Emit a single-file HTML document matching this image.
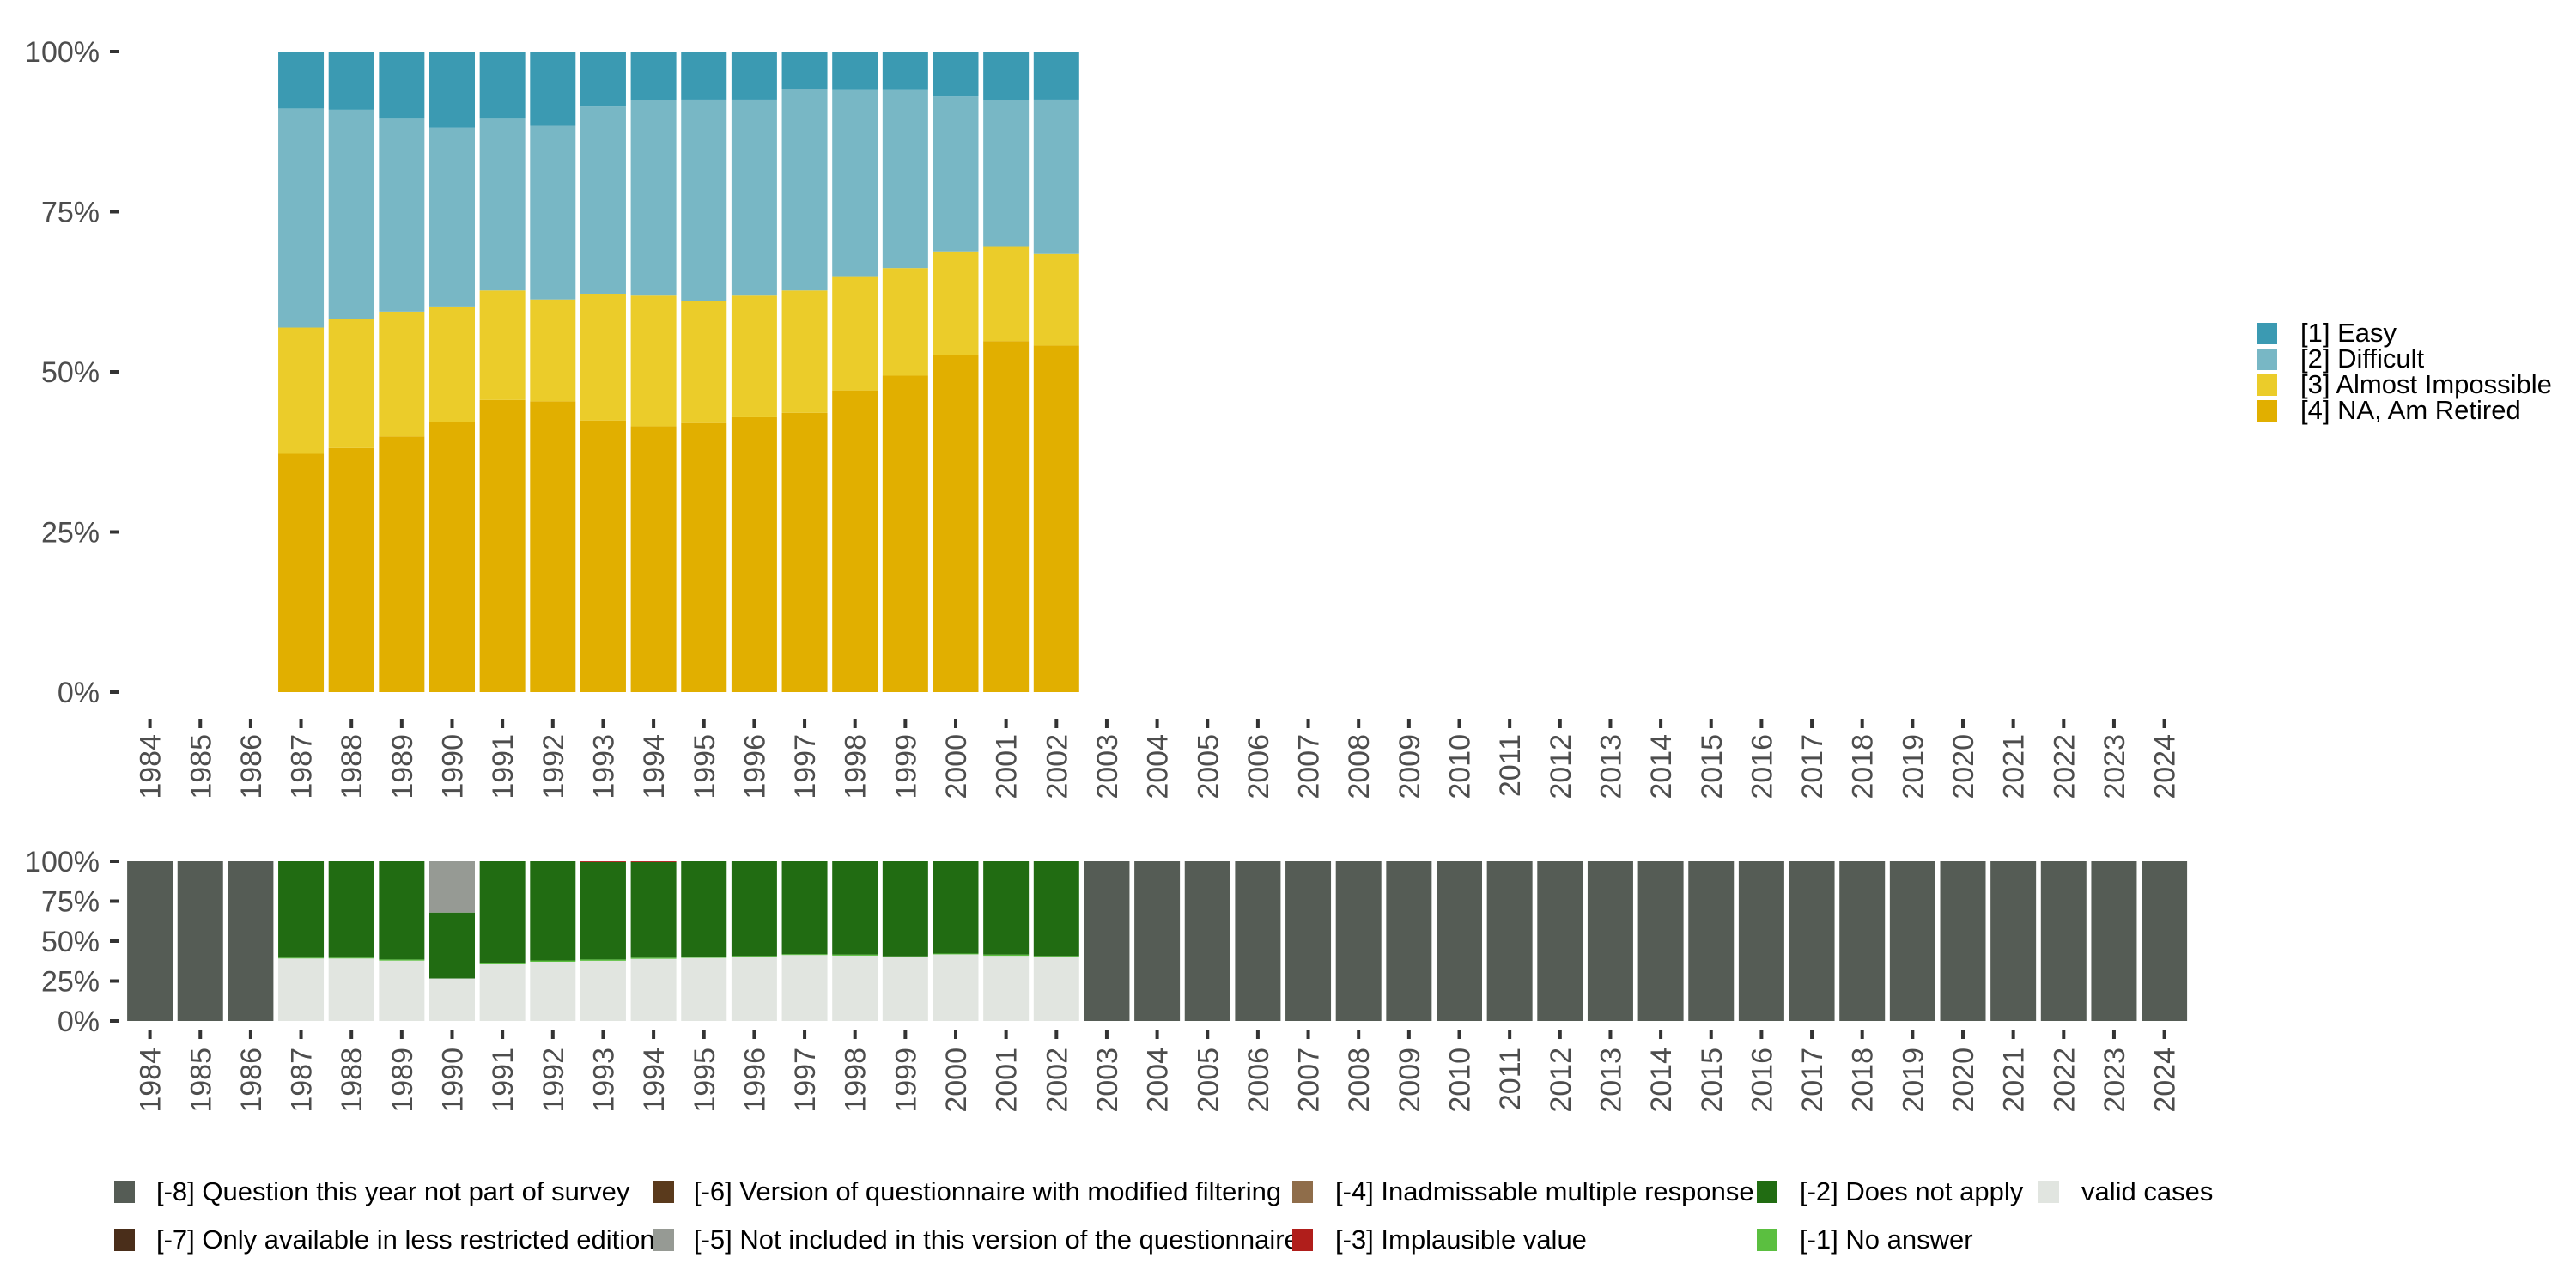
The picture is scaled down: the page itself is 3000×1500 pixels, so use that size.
<!DOCTYPE html>
<html><head><meta charset="utf-8">
<style>
html,body{margin:0;padding:0;background:#fff;}
svg{display:block;font-family:"Liberation Sans",sans-serif;}
</style></head>
<body>
<svg id="c" width="3000" height="1500" viewBox="0 0 3000 1500" xmlns="http://www.w3.org/2000/svg"></svg>
<script>
const years = [1984,1985,1986,1987,1988,1989,1990,1991,1992,1993,1994,1995,1996,1997,1998,1999,2000,2001,2002,2003,2004,2005,2006,2007,2008,2009,2010,2011,2012,2013,2014,2015,2016,2017,2018,2019,2020,2021,2022,2023,2024];
const topYears = [1987,1988,1989,1990,1991,1992,1993,1994,1995,1996,1997,1998,1999,2000,2001,2002];
const retired = [37.2,38.1,39.9,42.1,45.6,45.4,42.4,41.5,42.0,42.9,43.6,47.1,49.4,52.6,54.8,54.1];
const almost = [19.7,20.1,19.5,18.1,17.1,15.9,19.8,20.4,19.1,19.0,19.1,17.7,16.8,16.2,14.7,14.3];
const difficult = [34.2,32.7,30.1,27.9,26.8,27.1,29.2,30.5,31.4,30.6,31.4,29.2,27.8,24.2,22.9,24.1];
const easy = [8.9,9.1,10.5,11.9,10.5,11.6,8.6,7.6,7.5,7.5,5.9,6.0,6.0,7.0,7.6,7.5];
const validCases = [39.1,39.1,37.8,26.6,35.5,37.1,37.7,38.9,39.5,40.2,41.3,40.9,40.0,41.7,40.8,40.2];
const noAnswer = [0.5,0.5,0.7,0,0.5,0.8,0.8,0.7,0.7,0.5,0.5,0.7,0.5,0.5,0.8,0.5];
const implausible = [0,0,0,0,0,0,0.5,0.5,0,0,0,0,0,0,0,0];
const notIncluded = [0,0,0,32.1,0,0,0,0,0,0,0,0,0,0,0,0];
const yTicks = [0,25,50,75,100];
const yTickLabels = ["0%","25%","50%","75%","100%"];

const NS="http://www.w3.org/2000/svg";
const svg=document.getElementById('c');
function el(tag,attrs,parent){const e=document.createElementNS(NS,tag);for(const k in attrs)e.setAttribute(k,attrs[k]);(parent||svg).appendChild(e);return e;}
const x0=174.6, step=58.65, bw=53;
const xC = y => x0 + (y-1984)*step;
const topY = v => 806 - v*(806-60)/100;
const botY = v => 1189 - v*(1189-1003)/100;

function drawAxes(yf, tickY, labY, gname){
  const g=el('g',{});
  
  
  yTicks.forEach((t,i)=>{
    const r=el('rect',{x:128,y:yf(t)-2,width:11,height:4,fill:'#333'},g);
    
    
    const tx=el('text',{x:116,y:yf(t)+12,'text-anchor':'end','font-size':34,fill:'#4d4d4d'},g);
    tx.textContent=yTickLabels[i];
    
    
  });
  years.forEach(yr=>{
    const r=el('rect',{x:xC(yr)-2,y:tickY,width:4,height:11,fill:'#333'},g);
    
    
    const tx=el('text',{x:0,y:0,'text-anchor':'end','font-size':34,fill:'#4d4d4d',transform:`translate(${xC(yr)+12},${labY}) rotate(-90)`},g);
    tx.textContent=yr;
    
    
  });
}

const tg=el('g',{});


const topSeries=[[retired,'#e1af00','retired'],[almost,'#ebcc2a','almost-impossible'],[difficult,'#78b7c5','difficult'],[easy,'#3b9ab2','easy']];
topYears.forEach((yr,i)=>{
  let cum=0;
  topSeries.forEach(([arr,col,nm])=>{
    const v=arr[i];
    const r=el('rect',{x:xC(yr)-bw/2,y:topY(cum+v),width:bw,height:topY(cum)-topY(cum+v),fill:col},tg);
    
    
    cum+=v;
  });
});
drawAxes(topY,837,855,'top');

const bg=el('g',{});


years.forEach(yr=>{
  const i=topYears.indexOf(yr);
  if(i<0){
    const r=el('rect',{x:xC(yr)-bw/2,y:botY(100),width:bw,height:botY(0)-botY(100),fill:'#555c55'},bg);
    
    
    return;
  }
  const dna=100-validCases[i]-noAnswer[i]-implausible[i]-notIncluded[i];
  const segs=[[validCases[i],'#e1e5e0','valid'],[noAnswer[i],'#5bbf40','no-answer'],[dna,'#216c12','does-not-apply'],[implausible[i],'#b01e1b','implausible'],[notIncluded[i],'#969a94','not-included']];
  let cum=0;
  segs.forEach(([v,col,nm])=>{
    if(v<=0)return;
    const r=el('rect',{x:xC(yr)-bw/2,y:botY(cum+v),width:bw,height:botY(cum)-botY(cum+v),fill:col},bg);
    
    
    cum+=v;
  });
});
drawAxes(botY,1199,1220,'bottom');

const rl=el('g',{});


[['#3b9ab2','[1] Easy'],['#78b7c5','[2] Difficult'],['#ebcc2a','[3] Almost Impossible'],['#e1af00','[4] NA, Am Retired']].forEach(([c,t],i)=>{
  const y=376+i*30;
  const r=el('rect',{x:2628,y:y,width:24,height:25,fill:c},rl);
  
  
  const tx=el('text',{x:2679,y:y+22,'font-size':31,fill:'#000'},rl);
  tx.textContent=t;
  
  
});

const bl=el('g',{});


const legItems=[
 [133,182,0,'#555c55','[-8] Question this year not part of survey'],
 [133,182,1,'#4a2e1a','[-7] Only available in less restricted edition'],
 [761,808,0,'#5a3a1c','[-6] Version of questionnaire with modified filtering'],
 [761,808,1,'#969a94','[-5] Not included in this version of the questionnaire'],
 [1505,1555,0,'#8f6d4a','[-4] Inadmissable multiple response'],
 [1505,1555,1,'#b01e1b','[-3] Implausible value'],
 [2046,2096,0,'#216c12','[-2] Does not apply'],
 [2046,2096,1,'#5bbf40','[-1] No answer'],
 [2374,2424,0,'#e1e5e0','valid cases']];
legItems.forEach(([kx,tx0,row,c,t])=>{
  const y=1375+row*56;
  const tx=el('text',{x:tx0,y:y+23,'font-size':31,fill:'#000'},bl);
  tx.textContent=t;
  
  
  const r=el('rect',{x:kx,y:y,width:24,height:26,fill:c},bl);
  
  
});
</script>
</body></html>
